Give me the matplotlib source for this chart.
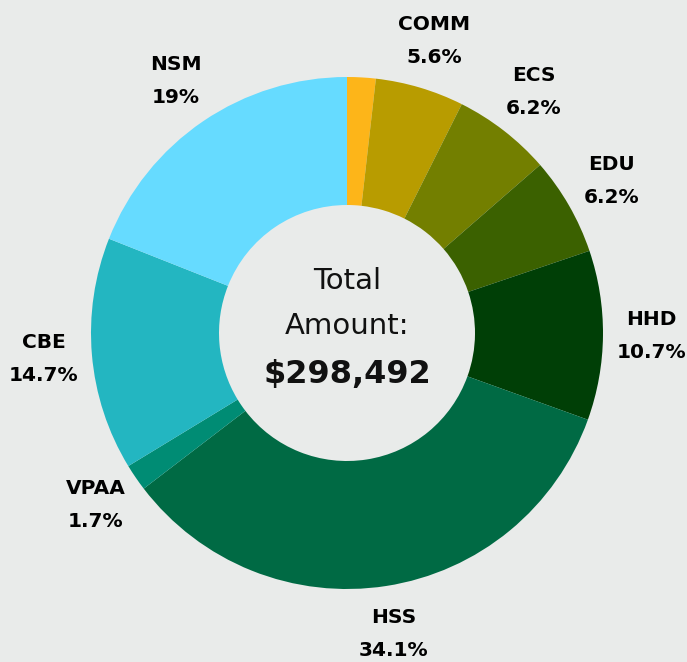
import matplotlib
matplotlib.use("Agg")
import matplotlib.pyplot as plt

colleges = ["", "COMM", "ECS", "EDU", "HHD", "HSS", "VPAA", "CBE", "NSM"]
shares = [1.8, 5.6, 6.2, 6.2, 10.7, 34.1, 1.7, 14.7, 19.0]
pct_text = ["", "5.6%", "6.2%", "6.2%", "10.7%", "34.1%", "1.7%", "14.7%", "19%"]
colors = ["#FDB519", "#B89C00", "#737F00", "#3B6100", "#003F06",
          "#006A44", "#008C74", "#23B6C1", "#66DBFF"]
total = "$298,492"

bg = "#E9EBEA"
fig = plt.figure(figsize=(6.87, 6.62), dpi=100, facecolor=bg)
ax = fig.add_axes([0, 0, 1, 1])
ax.set_facecolor(bg)

labels = [f"{c}\n{p}" if c else "" for c, p in zip(colleges, pct_text)]
wedges, texts = ax.pie(shares, colors=colors, labels=labels, startangle=90,
                       counterclock=False, center=(347, 329), radius=256,
                       labeldistance=1.19, frame=True,
                       wedgeprops=dict(width=128, linewidth=0),
                       textprops=dict(fontsize=14.5, fontweight="heavy",
                                      family="DejaVu Sans",
                                      va="center", linespacing=1.95))
for t in texts:
    t.set_horizontalalignment("center")
ax.set_xlim(0, 687)
ax.set_ylim(0, 662)
ax.set_aspect("equal")
ax.axis("off")

ax.text(347, 381, "Total", ha="center", va="center", fontsize=21,
        family="DejaVu Sans", color="#111111")
ax.text(347, 336, "Amount:", ha="center", va="center", fontsize=21,
        family="DejaVu Sans", color="#111111")
ax.text(347, 288, total, ha="center", va="center", fontsize=23,
        family="DejaVu Sans", fontweight="bold", color="#111111")

fig.savefig("out.png", dpi=100, facecolor=bg)
